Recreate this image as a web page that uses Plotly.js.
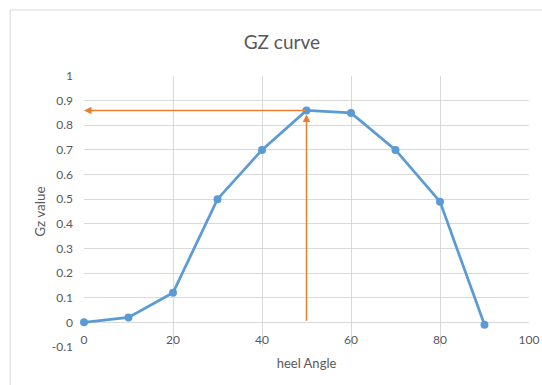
<!DOCTYPE html>
<html>
<head>
<meta charset="utf-8">
<script src="https://cdn.plot.ly/plotly-3.0.1.min.js"></script>
<style>
  html, body { margin: 0; padding: 0; background: #fff; }
  #chart { width: 542px; height: 385px; }
</style>
</head>
<body>
<div id="chart"></div>
<script>
// Righting lever (GZ) against heel angle
const heelAngle = [0, 10, 20, 30, 40, 50, 60, 70, 80, 90];
const gzValue   = [0, 0.02, 0.12, 0.5, 0.7, 0.86, 0.85, 0.7, 0.49, -0.01];

const xTicks = [0, 20, 40, 60, 80, 100];
const yTicks = [-0.1, 0, 0.1, 0.2, 0.3, 0.4, 0.5, 0.6, 0.7, 0.8, 0.9, 1];
const yTickText = yTicks.map(v => String(Math.round(v * 10) / 10));

// Peak of the curve, marked by guide arrows to both axes
const peakIdx = gzValue.indexOf(Math.max(...gzValue));
const peakX = heelAngle[peakIdx];
const peakY = gzValue[peakIdx];

const grey = '#595959';
const gridCol = '#d9d9d9';
const orange = '#ED7D31';
const fontFam = 'Lato, "Open Sans", sans-serif';

const trace = {
  x: heelAngle,
  y: gzValue,
  type: 'scatter',
  mode: 'lines+markers',
  line: { color: '#5B9BD5', width: 2.75 },
  marker: { color: '#5B9BD5', size: 8 },
  hoverinfo: 'skip',
  cliponaxis: false
};

const layout = {
  width: 542,
  height: 385,
  margin: { l: 84, r: 13, t: 76, b: 38 },
  paper_bgcolor: '#fff',
  plot_bgcolor: '#fff',
  showlegend: false,
  font: { family: fontFam, color: grey, size: 12 },
  title: {
    text: 'GZ curve',
    font: { family: fontFam, size: 19, color: grey },
    x: 0.52, xanchor: 'center',
    y: 0.89, yanchor: 'middle'
  },
  xaxis: {
    range: [0, 100],
    tickvals: xTicks,
    ticktext: xTicks.map(String),
    showgrid: true, gridcolor: gridCol, gridwidth: 1,
    zeroline: false, showline: false,
    ticks: '',
    ticklabelstandoff: -16,
    tickfont: { family: fontFam, size: 12, color: grey },
    title: { text: 'heel Angle', font: { family: fontFam, size: 13, color: grey }, standoff: 12 },
    automargin: false,
    fixedrange: true
  },
  yaxis: {
    range: [-0.1, 1],
    tickvals: yTicks,
    ticktext: yTickText,
    showgrid: true, gridcolor: gridCol, gridwidth: 1,
    zeroline: true, zerolinecolor: gridCol, zerolinewidth: 1,
    showline: false,
    ticks: '',
    ticklabelstandoff: 10,
    tickfont: { family: fontFam, size: 12, color: grey },
    title: { text: 'Gz value', font: { family: fontFam, size: 13.5, color: grey }, standoff: 3 },
    automargin: false,
    fixedrange: true
  },
  shapes: [
    // chart-area frame
    { type: 'line', xref: 'paper', yref: 'paper', x0: -0.166, x1: 1.1, y0: 1.2435, y1: 1.2435,
      line: { color: gridCol, width: 1 } },
    { type: 'line', xref: 'paper', yref: 'paper', x0: -0.166, x1: -0.166, y0: 1.2435, y1: -0.2,
      line: { color: gridCol, width: 1 } }
  ],
  annotations: [
    // horizontal guide: peak -> y axis
    { x: 0, y: peakY, ax: peakX, ay: peakY, xref: 'x', yref: 'y', axref: 'x', ayref: 'y',
      text: '', showarrow: true, arrowhead: 2, arrowsize: 1, arrowwidth: 1.5, arrowcolor: orange },
    // vertical guide: heel angle -> peak
    { x: peakX, y: peakY, ax: peakX, ay: 0, xref: 'x', yref: 'y', axref: 'x', ayref: 'y',
      text: '', showarrow: true, arrowhead: 2, arrowsize: 1, arrowwidth: 1.5, arrowcolor: orange,
      standoff: 4 }
  ]
};

Plotly.newPlot('chart', [trace], layout, { displayModeBar: false, staticPlot: true });
</script>
</body>
</html>
